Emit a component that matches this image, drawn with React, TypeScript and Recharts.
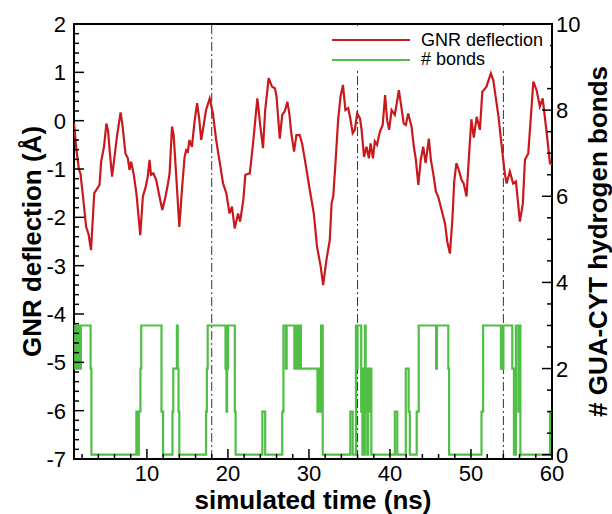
import React from 'react';
import { ComposedChart, Line, XAxis, YAxis, ReferenceLine, ReferenceArea, Legend, Customized } from 'recharts';

// GNR deflection (Å) vs simulated time (ns): [t, deflection]
const gnrDeflection: [number, number][] = [
  [1.0, -0.05], [1.3, -0.6], [1.6, -1.0], [1.8, -1.1], [2.1, -1.55], [2.5, -2.2], [2.8, -2.35], [3.1, -2.68],
  [3.5, -1.5], [3.8, -1.42], [4.15, -1.33], [4.35, -0.85], [4.7, -0.54], [5.0, -0.06], [5.2, -0.2], [5.4, -0.61],
  [5.7, -1.16], [6.0, -0.75], [6.3, -0.33], [6.75, 0.17], [7.0, -0.12], [7.35, -0.68], [7.65, -0.78], [7.85, -1.02],
  [8.05, -0.85], [8.35, -1.09], [8.7, -1.5], [9.18, -2.37], [9.5, -1.57], [9.85, -1.37], [10.1, -1.16], [10.33, -0.81],
  [10.5, -1.12], [10.8, -1.09], [11.15, -1.23], [11.55, -1.57], [11.9, -1.85], [12.3, -1.57], [12.6, -1.3], [12.8, -1.09],
  [13.1, -0.12], [13.3, -0.3], [13.6, -1.09], [14.0, -2.2], [14.35, -1.37], [14.65, -0.75], [14.85, -0.61], [15.05, -0.64],
  [15.25, -0.4], [15.55, -0.54], [15.9, 0.01], [16.2, 0.36], [16.45, 0.05], [16.7, -0.4], [17.0, -0.1], [17.3, 0.22],
  [17.75, 0.46], [18.15, 0.15], [18.55, -0.4], [19.0, -0.88], [19.4, -1.3], [19.8, -1.5], [20.2, -1.92], [20.5, -1.78],
  [20.83, -2.23], [21.25, -1.92], [21.5, -2.09], [21.9, -1.64], [22.15, -1.12], [22.7, -1.09], [23.1, -0.47], [23.63, 0.46],
  [24.0, -0.12], [24.33, -0.57], [24.6, 0.22], [25.03, 0.88], [25.45, 0.7], [25.8, 0.67], [26.0, 0.5], [26.4, -0.37],
  [26.7, 0.12], [27.0, 0.19], [27.34, 0.39], [27.6, 0.12], [27.8, -0.23], [28.16, -0.64], [28.45, -0.3], [28.86, -0.3],
  [29.15, -0.47], [29.5, -0.81], [30.1, -1.43], [30.6, -1.92], [31.0, -2.61], [31.45, -3.02], [31.75, -3.4], [32.16, -2.88],
  [32.57, -2.47], [32.8, -1.7], [33.0, -1.57], [33.3, -0.81], [33.6, 0.01], [33.9, 0.5], [34.2, 0.74], [34.5, 0.22],
  [34.84, 0.26], [35.1, 0.05], [35.4, -0.26], [35.66, -0.19], [35.95, 0.15], [36.3, 0.05], [36.5, -0.19], [36.8, -0.75],
  [37.1, -0.54], [37.4, -0.78], [37.6, -0.47], [37.9, -0.78], [38.13, -0.43], [38.4, -0.5], [38.75, -0.23], [39.1, -0.09],
  [39.4, 0.53], [39.65, 0.01], [39.9, -0.19], [40.2, 0.22], [40.6, 0.12], [41.1, 0.63], [41.4, 0.29], [41.7, -0.06],
  [41.96, -0.09], [42.25, 0.15], [42.66, -0.12], [42.95, -0.54], [43.2, -0.81], [43.5, -1.33], [43.8, -0.81], [44.1, -0.54],
  [44.4, -0.88], [44.8, -0.37], [45.05, -0.81], [45.34, -1.09], [45.67, -1.47], [45.95, -1.57], [46.37, -1.85], [46.8, -2.13],
  [47.07, -2.5], [47.4, -2.75], [47.7, -2.06], [47.93, -1.26], [48.2, -0.88], [48.5, -1.02], [48.84, -1.23], [49.1, -1.3],
  [49.45, -1.57], [49.8, -0.6], [50.05, 0.03], [50.35, -0.35], [50.7, 0.08], [51.1, -0.19], [51.4, 0.6], [51.9, 0.7],
  [52.45, 0.98], [52.75, 0.84], [53.4, 0.08], [53.8, -0.54], [54.2, -1.12], [54.4, -1.3], [54.8, -1.05], [55.2, -1.3],
  [55.55, -1.26], [56.04, -2.09], [56.4, -1.71], [56.66, -0.81], [57.07, -0.68], [57.7, 0.81], [58.1, 0.63], [58.5, 0.29],
  [58.85, 0.46], [59.3, -0.19], [59.75, -0.88], [60.0, -0.9],
];

// number of GUA-CYT hydrogen bonds (step changes): [t, bonds]
const hydrogenBonds: [number, number][] = [
  [1.0, 3], [1.15, 2], [1.25, 3], [1.35, 2], [1.45, 3], [1.55, 2], [1.65, 3], [1.75, 2], [1.85, 3],
  [3.05, 2], [3.15, 0],
  [8.7, 1], [8.78, 0], [8.85, 1], [8.92, 0], [9.0, 1], [9.2, 2], [9.3, 3],
  [11.8, 1], [12.0, 0],
  [13.15, 1], [13.25, 2], [13.7, 3], [13.8, 2], [13.9, 1], [14.0, 0],
  [17.3, 1], [17.4, 2], [17.5, 3],
  [19.7, 2], [19.78, 3], [19.82, 1], [19.9, 3], [19.95, 2], [20.0, 3],
  [20.85, 1], [20.95, 0],
  [24.25, 1], [24.6, 0],
  [26.7, 1], [26.85, 3],
  [27.15, 2], [27.25, 3],
  [28.2, 2], [28.3, 3], [28.4, 2], [28.5, 3], [28.75, 2], [28.85, 3], [29.0, 2],
  [31.05, 1], [31.2, 2], [31.3, 1], [31.5, 3], [31.7, 0],
  [35.1, 1], [35.4, 0], [35.8, 3], [35.9, 2], [36.0, 3], [36.45, 1], [36.6, 0], [36.7, 2], [36.8, 0], [36.9, 3],
  [37.0, 1], [37.1, 2], [37.2, 0], [37.3, 2], [37.45, 1], [37.55, 2], [37.7, 0],
  [40.6, 1], [40.9, 0],
  [41.95, 2], [42.3, 1], [42.45, 0],
  [43.3, 1], [43.55, 3],
  [45.7, 2], [45.8, 3],
  [47.2, 2], [47.3, 0],
  [51.3, 1], [51.5, 3],
  [53.7, 2], [53.8, 3], [53.9, 2], [54.0, 3],
  [55.1, 2], [55.3, 0], [55.55, 3], [55.85, 1], [55.95, 3], [56.1, 0],
  [59.75, 1], [60.0, 1],
];

const markerTimes = [18, 36, 54];
const xTickLabels = [10, 20, 30, 40, 50, 60];
const leftTickLabels = [-7, -6, -5, -4, -3, -2, -1, 0, 1, 2];
const rightTickLabels = [0, 2, 4, 6, 8, 10];

const seriesNames = { deflection: 'GNR deflection', bonds: '# bonds' };
const titles = { x: 'simulated time (ns)', left: 'GNR deflection (Å)', right: '# GUA-CYT hydrogen bonds' };

const RED = '#c81a1e';
const GREEN = '#4fbf45';
const FONT = '"Liberation Sans", Arial, Helvetica, sans-serif';

const deflectionData = gnrDeflection.map(([t, d]) => ({ t, d }));
const bondData = hydrogenBonds.map(([t, n]) => ({ t, n }));

const range = (a: number, b: number, step: number) => {
  const out: number[] = [];
  for (let v = a; v <= b + 1e-9; v += step) out.push(Math.round(v * 100) / 100);
  return out;
};
const xTicks = range(2, 60, 2);
const leftTicks = range(-7, 2, 0.2);
const rightTicks = range(0, 10, 0.5);

const isIn = (arr: number[], v: number) => arr.some((a) => Math.abs(a - v) < 1e-6);

const XTick = (props: any) => {
  const { x, y, payload } = props;
  const axisY = y - 14;
  const major = isIn(xTickLabels, payload.value);
  return (
    <g>
      <line x1={x} x2={x} y1={axisY} y2={axisY - (major ? 10 : 5)} stroke="#000" strokeWidth={1.5} />
      {major && (
        <text x={x} y={axisY + 22} textAnchor="middle" fontSize={22} fontFamily={FONT} fill="#000">
          {payload.value}
        </text>
      )}
    </g>
  );
};

const LeftTick = (props: any) => {
  const { x, y, payload } = props;
  const axisX = x + 8;
  const major = isIn(leftTickLabels, payload.value);
  return (
    <g>
      <line x1={axisX} x2={axisX + (major ? 10 : 5)} y1={y} y2={y} stroke="#000" strokeWidth={1.5} />
      {major && (
        <text x={x} y={y + 8} textAnchor="end" fontSize={22} fontFamily={FONT} fill="#000">
          {payload.value}
        </text>
      )}
    </g>
  );
};

const RightTick = (props: any) => {
  const { x, y, payload } = props;
  const axisX = x - 4;
  const major = isIn(rightTickLabels, payload.value);
  return (
    <g>
      <line x1={axisX} x2={axisX - (major ? 10 : 5)} y1={y} y2={y} stroke="#000" strokeWidth={1.5} />
      {major && (
        <text x={x} y={y + 8} textAnchor="start" fontSize={22} fontFamily={FONT} fill="#000">
          {payload.value}
        </text>
      )}
    </g>
  );
};

const LegendContent = (props: any) => {
  const payload = (props.payload || []) as any[];
  const order = [seriesNames.deflection, seriesNames.bonds];
  const items = order
    .map((name) => payload.find((p) => p.value === name))
    .filter(Boolean);
  return (
    <svg width={225} height={44} style={{ display: 'block', overflow: 'visible' }}>
      {items.map((p: any, i: number) => (
        <g key={p.value}>
          <line x1={7} x2={85} y1={14 + i * 20} y2={14 + i * 20} stroke={p.color} strokeWidth={2} />
          <text x={96} y={20 + i * 19} fontSize={18} fontFamily={FONT} fill="#000">
            {p.value}
          </text>
        </g>
      ))}
    </svg>
  );
};

const Titles = () => (
  <g fontFamily={FONT} fontWeight="bold" fontSize={26} fill="#000">
    <text x={313} y={509} textAnchor="middle">{titles.x}</text>
    <text x={41} y={241.5} textAnchor="middle" transform="rotate(-90 41 241.5)">{titles.left}</text>
    <text x={607} y={241.5} textAnchor="middle" transform="rotate(-90 607 241.5)">{titles.right}</text>
  </g>
);

export default function App() {
  return (
    <div style={{ width: 612, height: 514, background: '#fff' }}>
      <style>{`body{margin:0;background:#fff}`}</style>
      <ComposedChart width={612} height={514} margin={{ top: 24, right: 0, bottom: 0, left: 0 }}>
        <XAxis
          type="number"
          dataKey="t"
          domain={[1, 60]}
          allowDataOverflow
          ticks={xTicks}
          interval={0}
          tickSize={0}
          tickMargin={14}
          tick={(p: any) => <XTick {...p} />}
          axisLine={false}
          height={55}
        />
        <YAxis
          yAxisId="left"
          type="number"
          domain={[-7, 2]}
          allowDataOverflow
          ticks={leftTicks}
          interval={0}
          tickSize={0}
          tickMargin={8}
          tick={(p: any) => <LeftTick {...p} />}
          axisLine={false}
          width={74}
        />
        <YAxis
          yAxisId="right"
          orientation="right"
          type="number"
          domain={[-0.1, 10]}
          allowDataOverflow
          ticks={rightTicks}
          interval={0}
          tickSize={0}
          tickMargin={4}
          tick={(p: any) => <RightTick {...p} />}
          axisLine={false}
          width={60}
        />
        {markerTimes.map((m) => (
          <ReferenceLine
            key={m}
            x={m}
            yAxisId="left"
            stroke="#333"
            strokeWidth={1}
            strokeDasharray="9 3 2 3"
          />
        ))}
        <Line
          yAxisId="right"
          data={bondData}
          dataKey="n"
          name={seriesNames.bonds}
          type="stepAfter"
          stroke={GREEN}
          strokeWidth={2.2}
          dot={false}
          isAnimationActive={false}
        />
        <Line
          yAxisId="left"
          data={deflectionData}
          dataKey="d"
          name={seriesNames.deflection}
          type="linear"
          stroke={RED}
          strokeWidth={2.2}
          dot={false}
          isAnimationActive={false}
        />
        <ReferenceArea
          yAxisId="left"
          x1={1}
          x2={60}
          y1={-7}
          y2={2}
          fill="none"
          fillOpacity={0}
          stroke="#000"
          strokeWidth={2}
          ifOverflow="visible"
        />
        <Legend
          layout="vertical"
          align="center"
          verticalAlign="middle"
          content={(p: any) => <LegendContent {...p} />}
          wrapperStyle={{ left: 325, top: 26, width: 225, height: 43, background: '#fff' }}
        />
        <Customized component={Titles} />
      </ComposedChart>
    </div>
  );
}
